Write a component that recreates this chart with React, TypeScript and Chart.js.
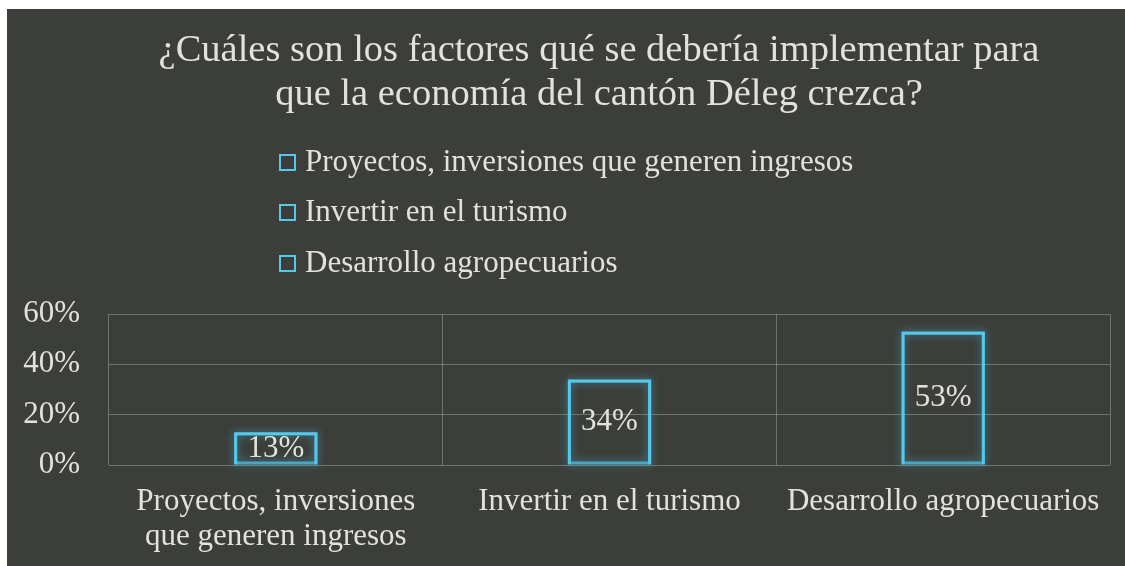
import React, { useEffect, useRef } from "react";
import { Chart, registerables } from "chart.js";

Chart.register(...registerables);

const titleLines = [
  "¿Cuáles son los factores qué se debería implementar para",
  "que la economía del cantón Déleg crezca?",
];
const categories = [
  ["Proyectos, inversiones", "que generen ingresos"],
  ["Invertir en el turismo"],
  ["Desarrollo agropecuarios"],
];
const legendLabels = [
  "Proyectos, inversiones que generen ingresos",
  "Invertir en el turismo",
  "Desarrollo agropecuarios",
];
const values = [13, 34, 53];
const yMax = 60;
const yStep = 20;

const FONT = "'Liberation Serif', 'Times New Roman', serif";
const BG = "#3c3e39";
const TEXT = "#e2e2dc";
const CYAN = "#56c8ec";
const GRID = "rgba(200, 204, 188, 0.38)";

const W = 1118;
const H = 557;

export default function App() {
  const ref = useRef<HTMLCanvasElement | null>(null);

  useEffect(() => {
    document.documentElement.style.overflow = "hidden";
    document.body.style.overflow = "hidden";
    const canvas = ref.current;
    if (!canvas) return;

    const bgPlugin = {
      id: "bg",
      beforeDraw(chart: any) {
        const ctx = chart.ctx;
        ctx.save();
        ctx.fillStyle = BG;
        ctx.fillRect(0, 0, chart.width, chart.height);
        ctx.restore();
      },
    };

    const glowPlugin = {
      id: "glow",
      beforeDatasetsDraw(chart: any) {
        const ctx = chart.ctx;
        const meta = chart.getDatasetMeta(0);
        ctx.save();
        ctx.shadowColor = "rgba(70, 200, 245, 0.9)";
        ctx.shadowBlur = 9;
        ctx.strokeStyle = "rgba(86, 200, 236, 0.7)";
        ctx.lineWidth = 3;
        meta.data.forEach((el: any) => {
          const p = el.getProps(["x", "y", "base", "width"], true);
          const left = p.x - p.width / 2;
          ctx.strokeRect(left + 1.5, p.y + 1.5, p.width - 3, p.base - p.y - 3);
        });
        ctx.restore();
      },
    };

    const labelPlugin = {
      id: "dlabels",
      afterDatasetsDraw(chart: any) {
        const ctx = chart.ctx;
        const meta = chart.getDatasetMeta(0);
        ctx.save();
        ctx.fillStyle = TEXT;
        ctx.font = `31px ${FONT}`;
        ctx.textAlign = "center";
        ctx.textBaseline = "middle";
        meta.data.forEach((el: any, i: number) => {
          const p = el.getProps(["x", "y", "base"], true);
          ctx.fillText(values[i] + "%", p.x, (p.y + p.base) / 2);
        });
        ctx.restore();
      },
    };

    const headerPlugin = {
      id: "header",
      afterDraw(chart: any) {
        const ctx = chart.ctx;
        ctx.save();
        // title
        ctx.fillStyle = TEXT;
        ctx.font = `38.5px ${FONT}`;
        ctx.textAlign = "center";
        ctx.textBaseline = "middle";
        const tx = 592;
        const tY = [42, 86];
        titleLines.forEach((t, i) => ctx.fillText(t, tx, tY[i]));

        // legend
        const boxX = 272;
        const textX = 298;
        const rowY = [153, 203, 254];
        ctx.font = `31px ${FONT}`;
        ctx.textAlign = "left";
        legendLabels.forEach((lab, i) => {
          const y = rowY[i];
          ctx.fillStyle = BG;
          ctx.fillRect(boxX, y - 8, 17, 17);
          ctx.strokeStyle = CYAN;
          ctx.lineWidth = 2;
          ctx.strokeRect(boxX + 1, y - 7, 15, 15);
          ctx.fillStyle = TEXT;
          ctx.fillText(lab, textX, y + 1);
        });
        ctx.restore();
      },
    };

    const chart = new Chart(canvas, {
      type: "bar",
      data: {
        labels: categories,
        datasets: [
          {
            data: values,
            backgroundColor: "rgba(0,0,0,0)",
            borderColor: CYAN,
            borderWidth: 3,
            barPercentage: 0.25,
            categoryPercentage: 1,
          },
        ],
      },
      options: {
        responsive: false,
        animation: false,
        layout: { padding: { left: 0, right: 15, top: 305, bottom: 0 } },
        plugins: {
          legend: { display: false },
          tooltip: { enabled: false },
          title: { display: false },
        },
        scales: {
          x: {
            grid: { color: GRID, lineWidth: 1, drawTicks: false, offset: true },
            border: { display: false },
            ticks: {
              color: TEXT,
              padding: 19,
              maxRotation: 0,
              autoSkip: false,
              font: { family: FONT, size: 31, lineHeight: 35 / 31 },
            },
            afterFit(s: any) {
              s.height = 101;
            },
          },
          y: {
            min: 0,
            max: yMax,
            grid: { color: GRID, lineWidth: 1, drawTicks: false },
            border: { display: false },
            ticks: {
              stepSize: yStep,
              color: TEXT,
              padding: 29,
              font: { family: FONT, size: 31 },
              callback: (v: any) => v + "%",
            },
            afterFit(s: any) {
              s.width = 102;
            },
          },
        },
      },
      plugins: [bgPlugin, glowPlugin, labelPlugin, headerPlugin],
    });

    return () => chart.destroy();
  }, []);

  return (
    <div style={{ position: "fixed", left: 7, top: 9, width: W, height: H }}>
      <canvas ref={ref} width={W} height={H} style={{ display: "block" }} />
    </div>
  );
}
